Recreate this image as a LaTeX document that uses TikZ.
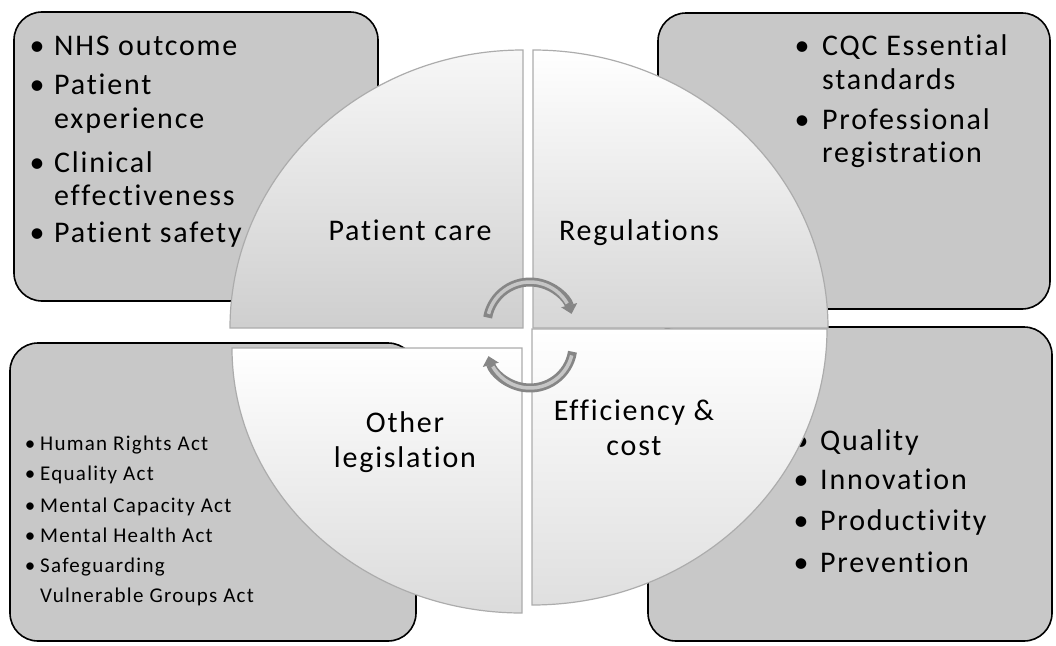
\documentclass[tikz,border=0pt]{standalone}
\usepackage{fontspec}
\setmainfont{Carlito}[LetterSpace=6,Ligatures={NoCommon}]
\usepackage{tikz}
\usetikzlibrary{arrows.meta,calc,positioning}
\definecolor{boxgray}{RGB}{200,200,200}

\begin{document}
\begin{tikzpicture}[x=1pt,y=-1pt,
  listbox/.style={draw=black,line width=1.6pt,fill=boxgray,rounded corners=28pt},
  quarter/.style={draw=gray!65,line width=1.2pt},
  bigtext/.style={anchor=base west,inner sep=0pt,font=\fontsize{30}{35}\selectfont},
  smalltext/.style={anchor=base west,inner sep=0pt,font=\fontsize{21}{25}\selectfont},
  bigdot/.style={anchor=base,inner sep=0pt,font=\fontsize{30}{35}\selectfont},
  smalldot/.style={anchor=base,inner sep=0pt,font=\fontsize{21}{25}\selectfont},
  segtext/.style={align=center,inner sep=0pt,font=\fontsize{30}{35}\selectfont},
  cyclearrow/.style={line width=9pt,draw=gray!95,-{Triangle[width=16pt,length=9pt]}},
  cyclelight/.style={line width=3.5pt,draw=gray!45}]
\useasboundingbox (0,0) rectangle (1056,645);

\draw[listbox] (14,12) rectangle (378,301);
\draw[listbox] (658,13) rectangle (1050,309);
\draw[listbox] (10,343) rectangle (416,641);
\draw[listbox] (648,327) rectangle (1052,641);

\foreach \yy [count=\i] in {55,94,172,242}
  \node[bigdot] (tlb\i) at (37,\yy) {\textbullet};
\foreach \txt/\yy [count=\i] in {NHS outcome/55,Patient/94,experience/128,Clinical/172,effectiveness/205,Patient safety/242}
  \node[bigtext] (tl\i) at (54,\yy) {\txt};

\foreach \yy [count=\i] in {55,129}
  \node[bigdot] (trb\i) at (802,\yy) {\textbullet};
\foreach \txt/\yy [count=\i] in {CQC Essential/55,standards/89,Professional/129,registration/162}
  \node[bigtext] (tr\i) at (822,\yy) {\txt};

\foreach \yy [count=\i] in {450,480,512,542,572}
  \node[smalldot] (blb\i) at (30,\yy) {\textbullet};
\foreach \txt/\yy [count=\i] in {Human Rights Act/450,Equality Act/480,Mental Capacity Act/512,Mental Health Act/542,Safeguarding/572,Vulnerable Groups Act/602}
  \node[smalltext] (bl\i) at (40,\yy) {\txt};

\foreach \yy [count=\i] in {450,489,530,572}
  \node[bigdot] (brb\i) at (801,\yy) {\textbullet};
\foreach \txt/\yy [count=\i] in {Quality/450,Innovation/489,Productivity/530,Prevention/572}
  \node[bigtext] (br\i) at (820,\yy) {\txt};

\shadedraw[quarter,top color=gray!6,bottom color=gray!38] (523,328) -- (230,328) arc[start angle=180,end angle=270,x radius=293,y radius=278] -- cycle;
\shadedraw[quarter,top color=white,bottom color=gray!32] (533,328) -- (533,50) arc[start angle=270,end angle=360,x radius=295,y radius=278] -- cycle;
\shadedraw[quarter,top color=white,bottom color=gray!28] (522,348) -- (522,613) arc[start angle=90,end angle=180,x radius=290,y radius=265] -- cycle;
\shadedraw[quarter,top color=white,bottom color=gray!25] (532,329) -- (827,329) arc[start angle=0,end angle=90,x radius=295,y radius=276] -- cycle;

\node[segtext,anchor=base] (care) at (410,240) {Patient care};
\node[segtext,anchor=base] (regs) at (639,240) {Regulations};
\node[segtext] (other) at (405,442) {Other\\legislation};
\node[segtext] (effic) at (634,428) {Efficiency \&\\cost};

\coordinate (hubtop) at (530,325);
\coordinate (hubbot) at (530,345);
\draw[cyclearrow] ([shift={(190:43)}]hubtop) arc[start angle=190,end angle=345,radius=43];
\draw[cyclelight] ([shift={(195:43)}]hubtop) arc[start angle=195,end angle=330,radius=43];
\draw[cyclearrow] ([shift={(9:43)}]hubbot) arc[start angle=9,end angle=165,radius=43];
\draw[cyclelight] ([shift={(14:43)}]hubbot) arc[start angle=14,end angle=150,radius=43];
\end{tikzpicture}
\end{document}
